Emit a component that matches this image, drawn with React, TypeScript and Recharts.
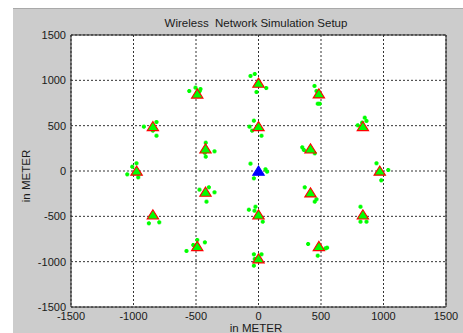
import React from 'react';
import { ScatterChart, Scatter, XAxis, YAxis, CartesianGrid, ReferenceArea } from 'recharts';

const axisTicks = [-1500, -1000, -500, 0, 500, 1000, 1500];

const stationX = [-490, -845, -424, -975, 0, 0, 483, 835, 416, 970, -424, -845, -490, 0, 0, 416, 835, 483];
const stationY = [855, 496, 250, 5, 974, 496, 857, 496, 250, 5, -228, -478, -827, -478, -963, -235, -478, -827];

const centerX = [0];
const centerY = [5];

const userX = [
  -554, -504, -464, -470,
  -917, -816, -845, -816,
  -422, -352, -422, -430,
  -976, -1010, -1050, -962,
  -64, -30, -16, 62,
  -37, -72, -51, 24,
  -64, 56, 69, -37,
  448, 464, 474, 490,
  850, 864, 794, 829,
  350, 363, 450,
  944, 1038, 982,
  -472, -397, -352, -416,
  -877, -794,
  -490, -522, -429, -576,
  -77, -24, -32, 34,
  -37, 24, -37, -30,
  370, 450, 464,
  816, 816, 864,
  397, 549, 474, 536,
];
const userY = [
  882, 919, 904, 882,
  489, 540, 445, 389,
  312, 217, 158, 200,
  85, 47, -37, -70,
  1048, 1070, 871, 915,
  555, 489, 445, 389,
  81, 19, -7, -81,
  938, 882, 742, 742,
  588, 552, 504, 533,
  261, 232, 195,
  85, 11, -103,
  -206, -180, -235, -338,
  -577, -566,
  -761, -816, -787, -882,
  -427, -394, -438, -559,
  -919, -919, -1044, -970,
  -180, -338, -312,
  -394, -559, -559,
  -805, -846, -934, -853,
];

const stations = stationX.map((x, i) => ({ x, y: stationY[i] }));
const centers = centerX.map((x, i) => ({ x, y: centerY[i] }));
const users = userX.map((x, i) => ({ x, y: userY[i] }));

const FONT = '"Liberation Sans", Arial, sans-serif';

const makeTriangle = (fill: string, stroke: string) => (props: any) => {
  const { cx, cy } = props;
  if (cx == null || cy == null) return <g />;
  const hw = 5.7;
  const hh = 4.6;
  const pts = `${cx},${cy - hh} ${cx + hw},${cy + hh} ${cx - hw},${cy + hh}`;
  return <polygon points={pts} fill={fill} stroke={stroke} strokeWidth={1.1} strokeLinejoin="miter" />;
};

const userShape = (props: any) => {
  const { cx, cy } = props;
  if (cx == null || cy == null) return <g />;
  return (
    <g>
      <rect x={cx - 2} y={cy - 1.2} width={4} height={2.4} fill="#00ff00" />
      <rect x={cx - 1.2} y={cy - 2} width={2.4} height={4} fill="#00ff00" />
    </g>
  );
};

export default function App() {
  return (
    <div style={{ position: 'absolute', left: 0, top: 0, width: 463, height: 333, background: '#ffffff', overflow: 'hidden' }}>
      <div
        style={{
          position: 'absolute',
          left: 13,
          top: 8,
          width: 450,
          height: 325,
          background: '#cccccc',
          borderTop: '1px solid #a9a9a9',
          boxSizing: 'border-box',
        }}
      />
      <div style={{ position: 'absolute', left: 13, top: 8 }}>
        <ScatterChart width={450} height={325} margin={{ top: 27, right: 17, bottom: 0, left: 0 }}>
          <CartesianGrid
            fill="#ffffff"
            stroke="#333333"
            strokeDasharray="2 2"
            horizontalValues={axisTicks}
            verticalValues={axisTicks}
          />
          <XAxis
            type="number"
            dataKey="x"
            domain={[-1500, 1500]}
            ticks={axisTicks}
            allowDataOverflow
            height={26}
            tickSize={0}
            tickMargin={5}
            axisLine={false}
            tick={{ fill: '#1a1a1a', fontSize: 11, fontFamily: FONT }}
          />
          <YAxis
            type="number"
            dataKey="y"
            domain={[-1500, 1500]}
            ticks={axisTicks}
            allowDataOverflow
            width={58}
            tickSize={0}
            tickMargin={5}
            axisLine={false}
            tick={{ fill: '#1a1a1a', fontSize: 11, fontFamily: FONT }}
          />
          <ReferenceArea x1={-1500} x2={1500} y1={-1500} y2={1500} fill="none" stroke="#222222" strokeWidth={1} ifOverflow="visible" />
          <Scatter data={users} shape={userShape} isAnimationActive={false} />
          <Scatter data={stations} shape={makeTriangle('#00ff00', '#ff0000')} isAnimationActive={false} />
          <Scatter data={centers} shape={makeTriangle('#0000ff', '#0000ff')} isAnimationActive={false} />
        </ScatterChart>
      </div>
      <svg width={463} height={333} style={{ position: 'absolute', left: 0, top: 0, pointerEvents: 'none' }}>
        <text x={256} y={27} textAnchor="middle" fontFamily={FONT} fontSize={11.5} fill="#1a1a1a" xmlSpace="preserve" style={{ whiteSpace: 'pre' }}>
          {'Wireless  Network Simulation Setup'}
        </text>
        <text x={256} y={332} textAnchor="middle" fontFamily={FONT} fontSize={11.5} fill="#1a1a1a">
          in METER
        </text>
        <text
          transform="translate(29.5,176) rotate(-90)"
          textAnchor="middle"
          fontFamily={FONT}
          fontSize={11.5}
          fill="#1a1a1a"
        >
          in METER
        </text>
      </svg>
    </div>
  );
}
